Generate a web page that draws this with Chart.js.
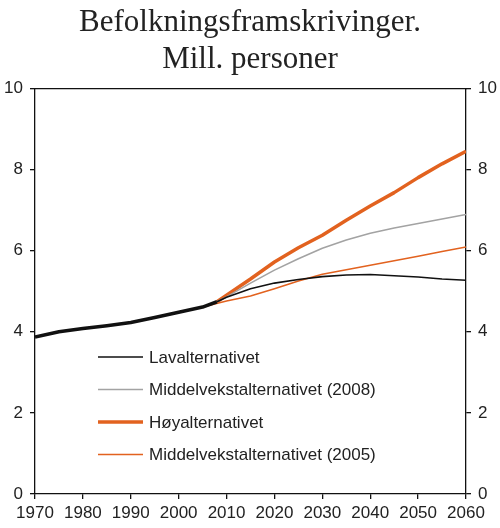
<!DOCTYPE html>
<html>
<head>
<meta charset="utf-8">
<script src="https://cdn.jsdelivr.net/npm/chart.js@4"></script>
<style>
  html, body { margin: 0; padding: 0; background: #fff; }
  #wrap { width: 500px; height: 528px; }
</style>
</head>
<body>
<div id="wrap"><canvas id="befolkning" width="500" height="528"></canvas></div>
<script>
// registrert befolkning (mill.)
const histYears = [1970, 1975, 1980, 1985, 1990, 1995, 2000, 2005, 2008];
const histValues = [3.87, 4.00, 4.08, 4.15, 4.23, 4.35, 4.48, 4.61, 4.74];

// framskrivinger 2008
const projYears = [2008, 2010, 2015, 2020, 2025, 2030, 2035, 2040, 2045, 2050, 2055, 2060];
const lavValues = [4.74, 4.85, 5.06, 5.20, 5.29, 5.36, 5.40, 5.41, 5.38, 5.35, 5.30, 5.27];
const middel08Values = [4.74, 4.86, 5.20, 5.52, 5.80, 6.06, 6.26, 6.43, 6.56, 6.67, 6.78, 6.89];
const hoyValues = [4.74, 4.90, 5.30, 5.72, 6.07, 6.38, 6.75, 7.10, 7.43, 7.80, 8.14, 8.45];

// framskriving 2005
const proj05Years = [2005, 2010, 2015, 2020, 2025, 2030, 2035, 2040, 2045, 2050, 2055, 2060];
const middel05Values = [4.61, 4.76, 4.88, 5.06, 5.25, 5.42, 5.53, 5.64, 5.75, 5.86, 5.98, 6.09];

const xTicks = [1970, 1980, 1990, 2000, 2010, 2020, 2030, 2040, 2050, 2060];
const yTicks = [0, 2, 4, 6, 8, 10];

const orange = '#E2621F';
const grey = '#A3A3A3';

const pts = (xs, ys) => xs.map((x, i) => ({ x: x, y: ys[i] }));

const tickFont = { family: 'Liberation Sans, Arial, sans-serif', size: 17 };

// legend drawn inside plot area
const innerLegend = {
    id: 'innerLegend',
    afterDraw(chart) {
        const c = chart.ctx;
        c.save();
        c.font = '17px "Liberation Sans", Arial, sans-serif';
        c.textBaseline = 'middle';
        c.fillStyle = '#222';
        let y = 357;
        chart.data.datasets.forEach(ds => {
            if (!ds.inLegend) return;
            c.strokeStyle = ds.borderColor;
            c.lineWidth = ds.borderWidth;
            c.beginPath();
            c.moveTo(98, y);
            c.lineTo(143, y);
            c.stroke();
            c.fillText(ds.label, 149, y + 1);
            y += 32.5;
        });
        c.restore();
    }
};

const ctx = document.getElementById('befolkning');

new Chart(ctx, {
    type: 'line',
    data: {
        datasets: [
            { label: 'Registrert', data: pts(histYears, histValues), borderColor: '#111', borderWidth: 3.5, inLegend: false, order: 0 },
            { label: 'Lavalternativet', data: pts(projYears, lavValues), borderColor: '#111', borderWidth: 1.6, inLegend: true, order: 1 },
            { label: 'Middelvekstalternativet (2008)', data: pts(projYears, middel08Values), borderColor: grey, borderWidth: 1.6, inLegend: true, order: 3 },
            { label: 'Høyalternativet', data: pts(projYears, hoyValues), borderColor: orange, borderWidth: 3.5, inLegend: true, order: 4 },
            { label: 'Middelvekstalternativet (2005)', data: pts(proj05Years, middel05Values), borderColor: orange, borderWidth: 1.6, inLegend: true, order: 2 }
        ]
    },
    options: {
        responsive: false,
        animation: false,
        layout: { padding: 0 },
        elements: { point: { radius: 0 }, line: { tension: 0, borderJoinStyle: 'round' } },
        plugins: {
            legend: { display: false },
            tooltip: { enabled: false },
            title: {
                display: true,
                text: ['Befolkningsframskrivinger.', 'Mill. personer'],
                color: '#222',
                font: { family: 'Liberation Serif, Times New Roman, serif', size: 31, weight: 'normal', lineHeight: 1.2 },
                padding: { top: 4, bottom: 10 }
            }
        },
        scales: {
            x: {
                type: 'linear',
                position: 'bottom',
                min: 1970,
                max: 2060,
                afterBuildTicks: s => { s.ticks = xTicks.map(v => ({ value: v })); },
                afterFit: s => { s.height = 34; },
                ticks: { color: '#222', font: tickFont, padding: 4, maxRotation: 0, autoSkip: false, callback: v => String(v) },
                grid: { drawOnChartArea: false, drawTicks: true, tickLength: 5, color: '#111', lineWidth: 1.3 },
                border: { color: '#111', width: 1.3 }
            },
            xTop: {
                type: 'linear',
                position: 'top',
                min: 1970,
                max: 2060,
                afterFit: s => { s.height = 0; },
                ticks: { display: false },
                grid: { display: false },
                border: { display: true, color: '#111', width: 1.3 }
            },
            y: {
                position: 'left',
                min: 0,
                max: 10,
                afterBuildTicks: s => { s.ticks = yTicks.map(v => ({ value: v })); },
                afterFit: s => { s.width = 35; },
                ticks: { color: '#222', font: tickFont, padding: 7, callback: v => String(v) },
                grid: { drawOnChartArea: false, tickLength: 5, color: '#111', lineWidth: 1.3 },
                border: { color: '#111', width: 1.3 }
            },
            y2: {
                position: 'right',
                min: 0,
                max: 10,
                afterBuildTicks: s => { s.ticks = yTicks.map(v => ({ value: v })); },
                afterFit: s => { s.width = 34; },
                ticks: { color: '#222', font: tickFont, padding: 7, callback: v => String(v) },
                grid: { drawOnChartArea: false, tickLength: 5, color: '#111', lineWidth: 1.3 },
                border: { color: '#111', width: 1.3 }
            }
        }
    },
    plugins: [innerLegend]
});
</script>
</body>
</html>
